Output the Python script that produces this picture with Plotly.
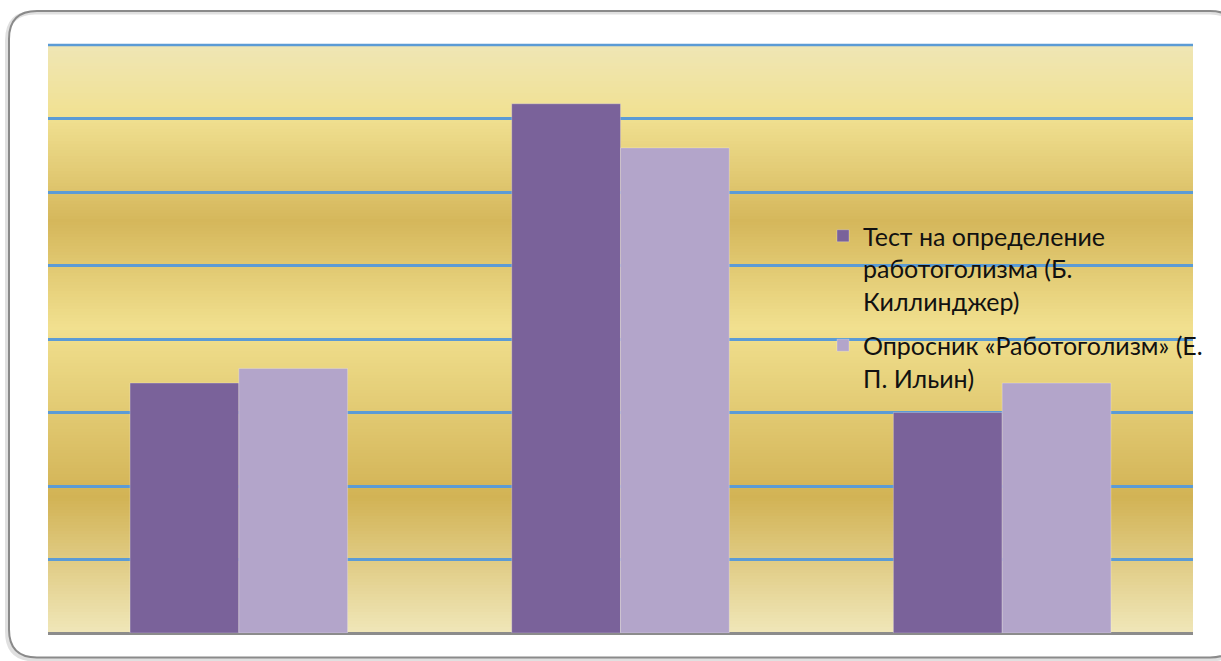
import plotly.graph_objects as go

# Data
groups = ["Группа 1", "Группа 2", "Группа 3"]
killinger = [17, 36, 15]
ilyin = [18, 33, 17]
series_names = [
    "Тест на определение<br>работоголизма (Б.<br>Киллинджер)",
    "Опросник «Работоголизм» (Е.<br>П. Ильин)",
]
colors = ["#7a629a", "#b3a5ca"]

W, H = 1221, 661
ML, MR, MT, MB = 48, 28, 45, 28
PW, PH = W - ML - MR, H - MT - MB


def px(x):
    return (x - ML) / PW


def py(y):
    return (H - MB - y) / PH


def hex2rgb(h):
    h = h.lstrip("#")
    return tuple(int(h[i:i + 2], 16) for i in (0, 2, 4))


# gold gradient of the plot area (fraction from top, colour)
stops = [
    (0.00, "#efe6b5"),
    (0.12, "#f1e192"),
    (0.30, "#d5b75b"),
    (0.48, "#f1e08f"),
    (0.77, "#d2b355"),
    (1.00, "#f0e7b9"),
]


def grad(t):
    for (t0, c0), (t1, c1) in zip(stops[:-1], stops[1:]):
        if t0 <= t <= t1:
            f = (t - t0) / (t1 - t0)
            a, b = hex2rgb(c0), hex2rgb(c1)
            return "rgb(%d,%d,%d)" % tuple(round(a[i] + (b[i] - a[i]) * f) for i in range(3))
    return stops[-1][1]


shapes = []
n = 196
for i in range(n):
    t0, t1 = i / n, (i + 1) / n
    shapes.append(dict(
        type="rect", xref="paper", yref="paper", layer="below",
        x0=0, x1=1, y0=1 - t1 - 0.002, y1=1 - t0,
        fillcolor=grad((t0 + t1) / 2), line=dict(width=0),
    ))

# top gridline along the upper edge of the plot area
shapes.append(dict(type="line", xref="paper", yref="paper", layer="below",
                   x0=0, x1=1, y0=1, y1=1,
                   line=dict(color="#5b9bd5", width=2.5)))


def rounded(x0, y0, x1, y1, r):
    return (
        f"M {px(x0 + r)} {py(y0)} L {px(x1 - r)} {py(y0)} "
        f"Q {px(x1)} {py(y0)} {px(x1)} {py(y0 + r)} "
        f"L {px(x1)} {py(y1 - r)} Q {px(x1)} {py(y1)} {px(x1 - r)} {py(y1)} "
        f"L {px(x0 + r)} {py(y1)} Q {px(x0)} {py(y1)} {px(x0)} {py(y1 - r)} "
        f"L {px(x0)} {py(y0 + r)} Q {px(x0)} {py(y0)} {px(x0 + r)} {py(y0)} Z"
    )


# outer frame with a soft shadow
shapes.append(dict(type="path", xref="paper", yref="paper", layer="above",
                   path=rounded(7, 12.5, 1238, 659.5, 28),
                   line=dict(color="rgba(0,0,0,0.12)", width=4)))
shapes.append(dict(type="path", xref="paper", yref="paper", layer="above",
                   path=rounded(9, 11, 1238, 657.5, 28),
                   line=dict(color="#8a8a8a", width=2)))

fig = go.Figure()
for name, vals, col in zip(series_names, [killinger, ilyin], colors):
    fig.add_trace(go.Bar(
        x=groups, y=vals, name=name, legendgroup=name,
        marker=dict(color=col, line=dict(color="rgba(255,255,255,0.25)", width=1)),
    ))

fig.update_layout(
    width=W, height=H,
    margin=dict(l=ML, r=MR, t=MT, b=MB, autoexpand=False),
    paper_bgcolor="white",
    plot_bgcolor="rgba(0,0,0,0)",
    barmode="group", bargap=0.43, bargroupgap=0,
    shapes=shapes,
    font=dict(family="Lato", size=25, color="#111111"),
    showlegend=True,
    legend=dict(
        x=px(823), y=py(213), xanchor="left", yanchor="top",
        bgcolor="rgba(0,0,0,0)", itemwidth=30, valign="top",
        traceorder="grouped", tracegroupgap=9,
        font=dict(family="Lato", size=25, color="#111111"),
    ),
    xaxis=dict(showticklabels=False, showgrid=False, showline=False, ticks=""),
    yaxis=dict(
        range=[0, 40], dtick=5, showticklabels=False, ticks="",
        showgrid=True, gridcolor="#5b9bd5", gridwidth=2.5,
        zeroline=True, zerolinecolor="#8c8c8c", zerolinewidth=3,
    ),
)

fig.write_html("out.html")
